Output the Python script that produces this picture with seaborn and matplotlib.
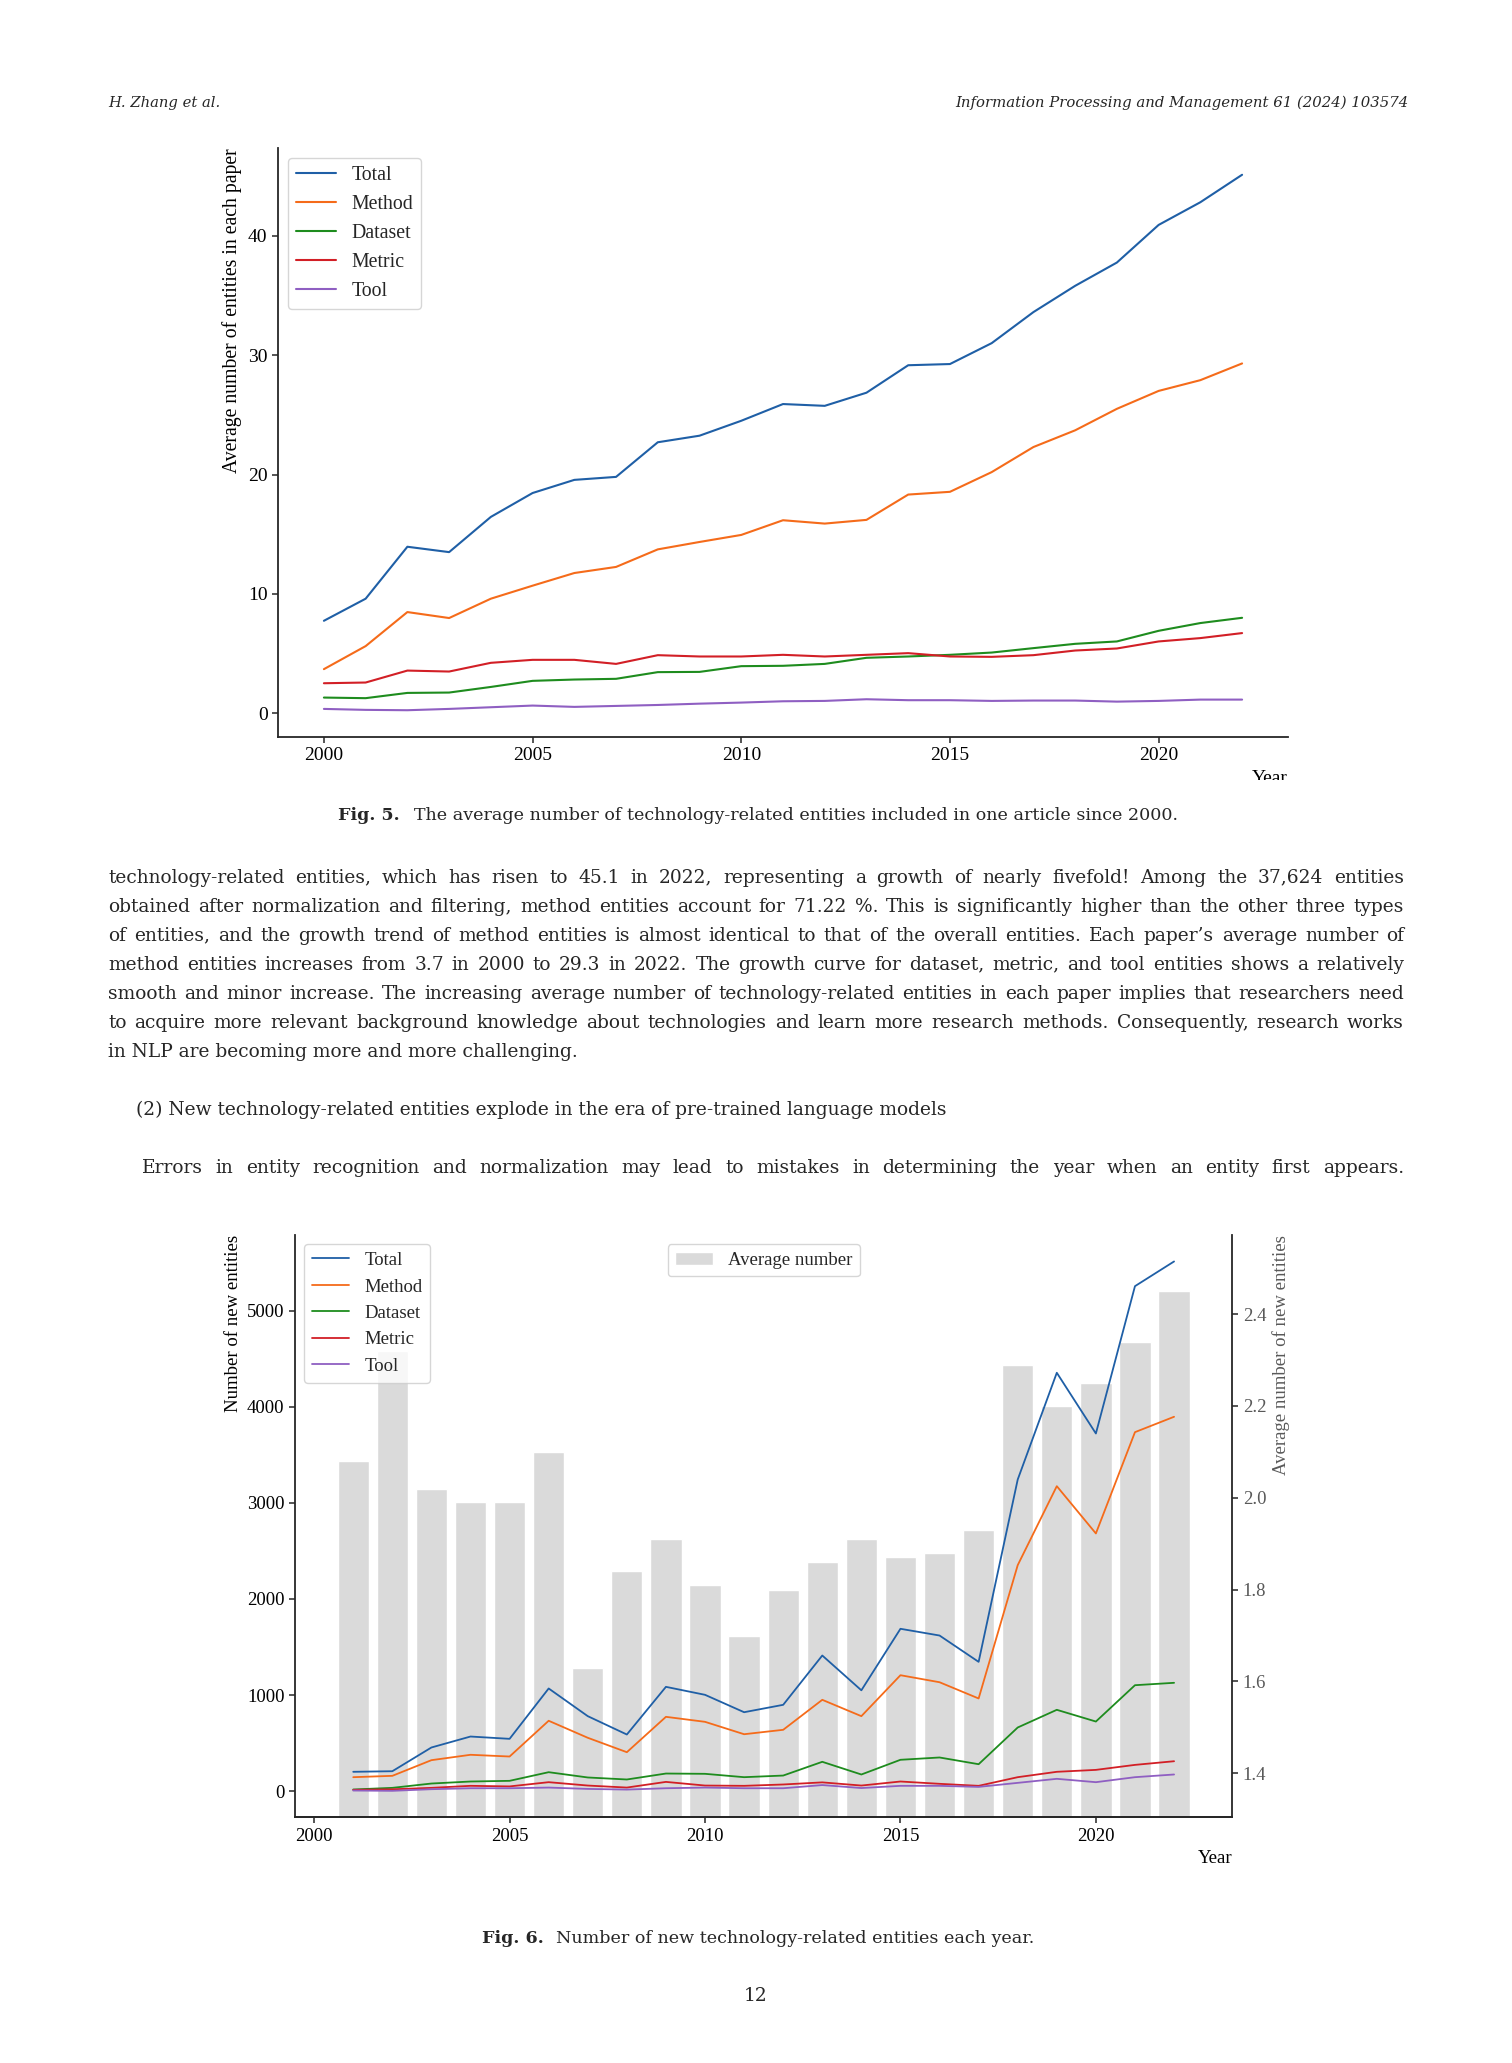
import matplotlib
matplotlib.use('Agg')
import matplotlib.pyplot as plt
import seaborn as sns
from matplotlib.transforms import Bbox, TransformedBbox

W, H, DPI = 1512, 2063, 100

# ---- Fig. 5 data: average number of entities per paper (2000-2022)
years5 = list(range(2000, 2023))
total5 = [7.75, 9.6, 13.95, 13.5, 16.45, 18.45, 19.55, 19.8, 22.7, 23.25, 24.5, 25.9,
          25.75, 26.85, 29.15, 29.25, 31.0, 33.6, 35.8, 37.75, 40.9, 42.8, 45.1]
method5 = [3.7, 5.63, 8.48, 7.98, 9.6, 10.69, 11.75, 12.26, 13.73, 14.35, 14.94, 16.17,
           15.89, 16.2, 18.32, 18.55, 20.2, 22.3, 23.7, 25.5, 27.0, 27.9, 29.3]
dataset5 = [1.32, 1.27, 1.71, 1.74, 2.21, 2.72, 2.83, 2.89, 3.45, 3.47, 3.95, 3.98,
            4.14, 4.65, 4.76, 4.9, 5.09, 5.46, 5.82, 6.02, 6.91, 7.56, 8.0]
metric5 = [2.52, 2.58, 3.58, 3.5, 4.23, 4.48, 4.48, 4.14, 4.87, 4.76, 4.76, 4.9,
           4.76, 4.9, 5.04, 4.76, 4.73, 4.87, 5.26, 5.43, 6.02, 6.3, 6.72]
tool5 = [0.37, 0.29, 0.26, 0.37, 0.51, 0.65, 0.54, 0.62, 0.7, 0.81, 0.9, 1.01,
         1.04, 1.18, 1.1, 1.1, 1.04, 1.07, 1.07, 0.98, 1.04, 1.15, 1.15]

# ---- Fig. 6 data: new entities each year (2001-2022)
years6 = list(range(2001, 2023))
total6 = [202, 208, 455, 569, 545, 1069, 781, 590, 1086, 1003, 822, 899,
          1412, 1050, 1690, 1620, 1346, 3243, 4354, 3722, 5255, 5512]
method6 = [146, 160, 323, 379, 361, 733, 556, 406, 774, 722, 593, 639,
           951, 781, 1207, 1134, 965, 2352, 3174, 2682, 3736, 3896]
dataset6 = [18, 35, 80, 101, 108, 198, 143, 122, 184, 181, 146, 163,
            306, 174, 327, 351, 281, 663, 847, 725, 1103, 1128]
metric6 = [14, 20, 35, 56, 50, 94, 59, 38, 97, 59, 56, 70,
           92, 59, 101, 77, 56, 146, 202, 222, 274, 312]
tool6 = [7, 4, 21, 31, 31, 38, 24, 17, 31, 38, 31, 31,
         64, 33, 56, 56, 45, 87, 129, 94, 146, 174]
avg6 = [2.08, 2.32, 2.02, 1.99, 1.99, 2.10, 1.63, 1.84, 1.91, 1.81, 1.70, 1.80,
        1.86, 1.91, 1.87, 1.88, 1.93, 2.29, 2.20, 2.25, 2.34, 2.45]

names = ['Total', 'Method', 'Dataset', 'Metric', 'Tool']
colors = ['#1f5fa6', '#f56b1a', '#1e8c1e', '#d21f26', '#8f5fc2']

sns.set_style('ticks')
plt.rcParams['font.family'] = ['Liberation Serif', 'DejaVu Serif']
plt.rcParams['font.size'] = 13.5
plt.rcParams['axes.edgecolor'] = '#262626'
plt.rcParams['axes.linewidth'] = 1.3
plt.rcParams['xtick.major.size'] = 4
plt.rcParams['ytick.major.size'] = 4
plt.rcParams['xtick.major.width'] = 1.1
plt.rcParams['ytick.major.width'] = 1.1
plt.rcParams['xtick.labelcolor'] = 'black'
plt.rcParams['ytick.labelcolor'] = 'black'
plt.rcParams['axes.labelcolor'] = 'black'

fig = plt.figure(figsize=(W / DPI, H / DPI), dpi=DPI, facecolor='white')

# ---------------- Fig. 5
ax5 = fig.add_axes([278 / W, 1 - 737 / H, (1288 - 278) / W, (737 - 148) / H])
for name, vals, col in zip(names, [total5, method5, dataset5, metric5, tool5], colors):
    sns.lineplot(x=years5, y=vals, ax=ax5, color=col, label=name, linewidth=1.5)
ax5.legend(loc='upper left', fontsize=14.3)
ax5.set_ylabel('Average number of entities in each paper', loc='top', fontsize=14.2)
ax5.set_xlabel('Year', loc='right', fontsize=14)
ax5.tick_params(labelsize=14)
sns.despine(ax=ax5)
# the year label is cut by the page crop in the original
lab = ax5.xaxis.label
lab.set_clip_box(TransformedBbox(Bbox.from_extents(0, 1 - 780 / H, 1, 1), fig.transFigure))
lab.set_clip_on(True)

# ---------------- Fig. 6
ax6 = fig.add_axes([295 / W, 1 - 1817.3 / H, (1232.3 - 295) / W, (1817.3 - 1235) / H])
ax6b = ax6.twinx()
ax6b.bar(years6, avg6, width=0.8, color='#dadada', label='Average number')
ax6b.set_ylim(min(avg6) * 0.8, max(avg6) * 1.05)
for name, vals, col in zip(names, [total6, method6, dataset6, metric6, tool6], colors):
    sns.lineplot(x=years6, y=vals, ax=ax6, color=col, label=name, linewidth=1.3)
ax6.set_zorder(ax6b.get_zorder() + 1)
ax6.patch.set_visible(False)
ax6.legend(loc='upper left', fontsize=13.5)
ax6b.legend(loc='upper center', fontsize=13.5)
ax6.set_ylabel('Number of new entities', loc='top')
ax6.set_xlabel('Year', loc='right')
ax6b.set_ylabel('Average number of new entities', loc='top', color='#595959')
ax6b.tick_params(axis='y', labelcolor='#595959')
ax6.spines['top'].set_visible(False)
ax6.spines['right'].set_visible(False)
ax6b.spines['top'].set_visible(False)
ax6b.spines['left'].set_visible(False)

# ---------------- page text
r = fig.canvas.get_renderer()
SERIF = ['DejaVu Serif']


def put(x, y, s, fontsize=12, **kw):
    # y is the middle of the x-height; place on the baseline below it
    base = y + 0.26 * fontsize * DPI / 72
    return fig.text(x / W, 1 - base / H, s, va='baseline', family=SERIF,
                    fontsize=fontsize, **kw)


def width(t):
    return t.get_window_extent(r).width


def fit(t, w, y):
    s = t.get_fontsize() * w / width(t)
    t.set_fontsize(s)
    t.set_y(1 - (y + 0.26 * s * DPI / 72) / H)
    return t


def caption(x0, x1, y, bold, rest, gap):
    tb = put(x0, y, bold, fontsize=12, fontweight='bold')
    tr = put(x0, y, rest, fontsize=12)
    f = (x1 - x0 - gap) / (width(tb) + width(tr))
    for t in (tb, tr):
        fit(t, width(t) * f, y)
    tr.set_x((x0 + width(tb) + gap) / W)


def justify(x0, x1, y, line, size):
    words = line.split()
    ts = [put(x0, y, w, fontsize=size) for w in words]
    ws = [width(t) for t in ts]
    g = (x1 - x0 - sum(ws)) / (len(words) - 1)
    x = x0
    for t, w in zip(ts, ws):
        t.set_x(x / W)
        x += w + g


# header
fit(put(108, 103, 'H. Zhang et al.', style='italic'), 112, 103)
fit(put(1408, 103, 'Information Processing and Management 61 (2024) 103574',
        style='italic', ha='right'), 451, 103)

caption(338.5, 1173.5, 815, 'Fig. 5.',
        'The average number of technology-related entities included in one article since 2000.', 14)

body = [
    'technology-related entities, which has risen to 45.1 in 2022, representing a growth of nearly fivefold! Among the 37,624 entities',
    'obtained after normalization and filtering, method entities account for 71.22 %. This is significantly higher than the other three types',
    'of entities, and the growth trend of method entities is almost identical to that of the overall entities. Each paper’s average number of',
    'method entities increases from 3.7 in 2000 to 29.3 in 2022. The growth curve for dataset, metric, and tool entities shows a relatively',
    'smooth and minor increase. The increasing average number of technology-related entities in each paper implies that researchers need',
    'to acquire more relevant background knowledge about technologies and learn more research methods. Consequently, research works',
]
last = 'in NLP are becoming more and more challenging.'
errors = 'Errors in entity recognition and normalization may lead to mistakes in determining the year when an entity first appears.'
body_y = [878, 907, 936, 965, 994, 1023]

# one font size for the whole body, small enough for every line to fit
probe = [put(0, 0, s, fontsize=10) for s in body]
size = 10 * min((1404 - 108) / width(t) for t in probe) * 0.99
for t in probe:
    t.remove()

for s, y in zip(body, body_y):
    justify(108, 1404, y, s, size)
put(108, 1052, last, fontsize=size)
put(135.6, 1110, '(2) New technology-related entities explode in the era of pre-trained language models',
    fontsize=size)
justify(142, 1404, 1168, errors, size)

caption(482, 1030, 1938.6, 'Fig. 6.', 'Number of new technology-related entities each year.', 12)
put(756, 1996.6, '12', fontsize=size, ha='center')

fig.savefig('out.png', dpi=DPI, facecolor='white')
